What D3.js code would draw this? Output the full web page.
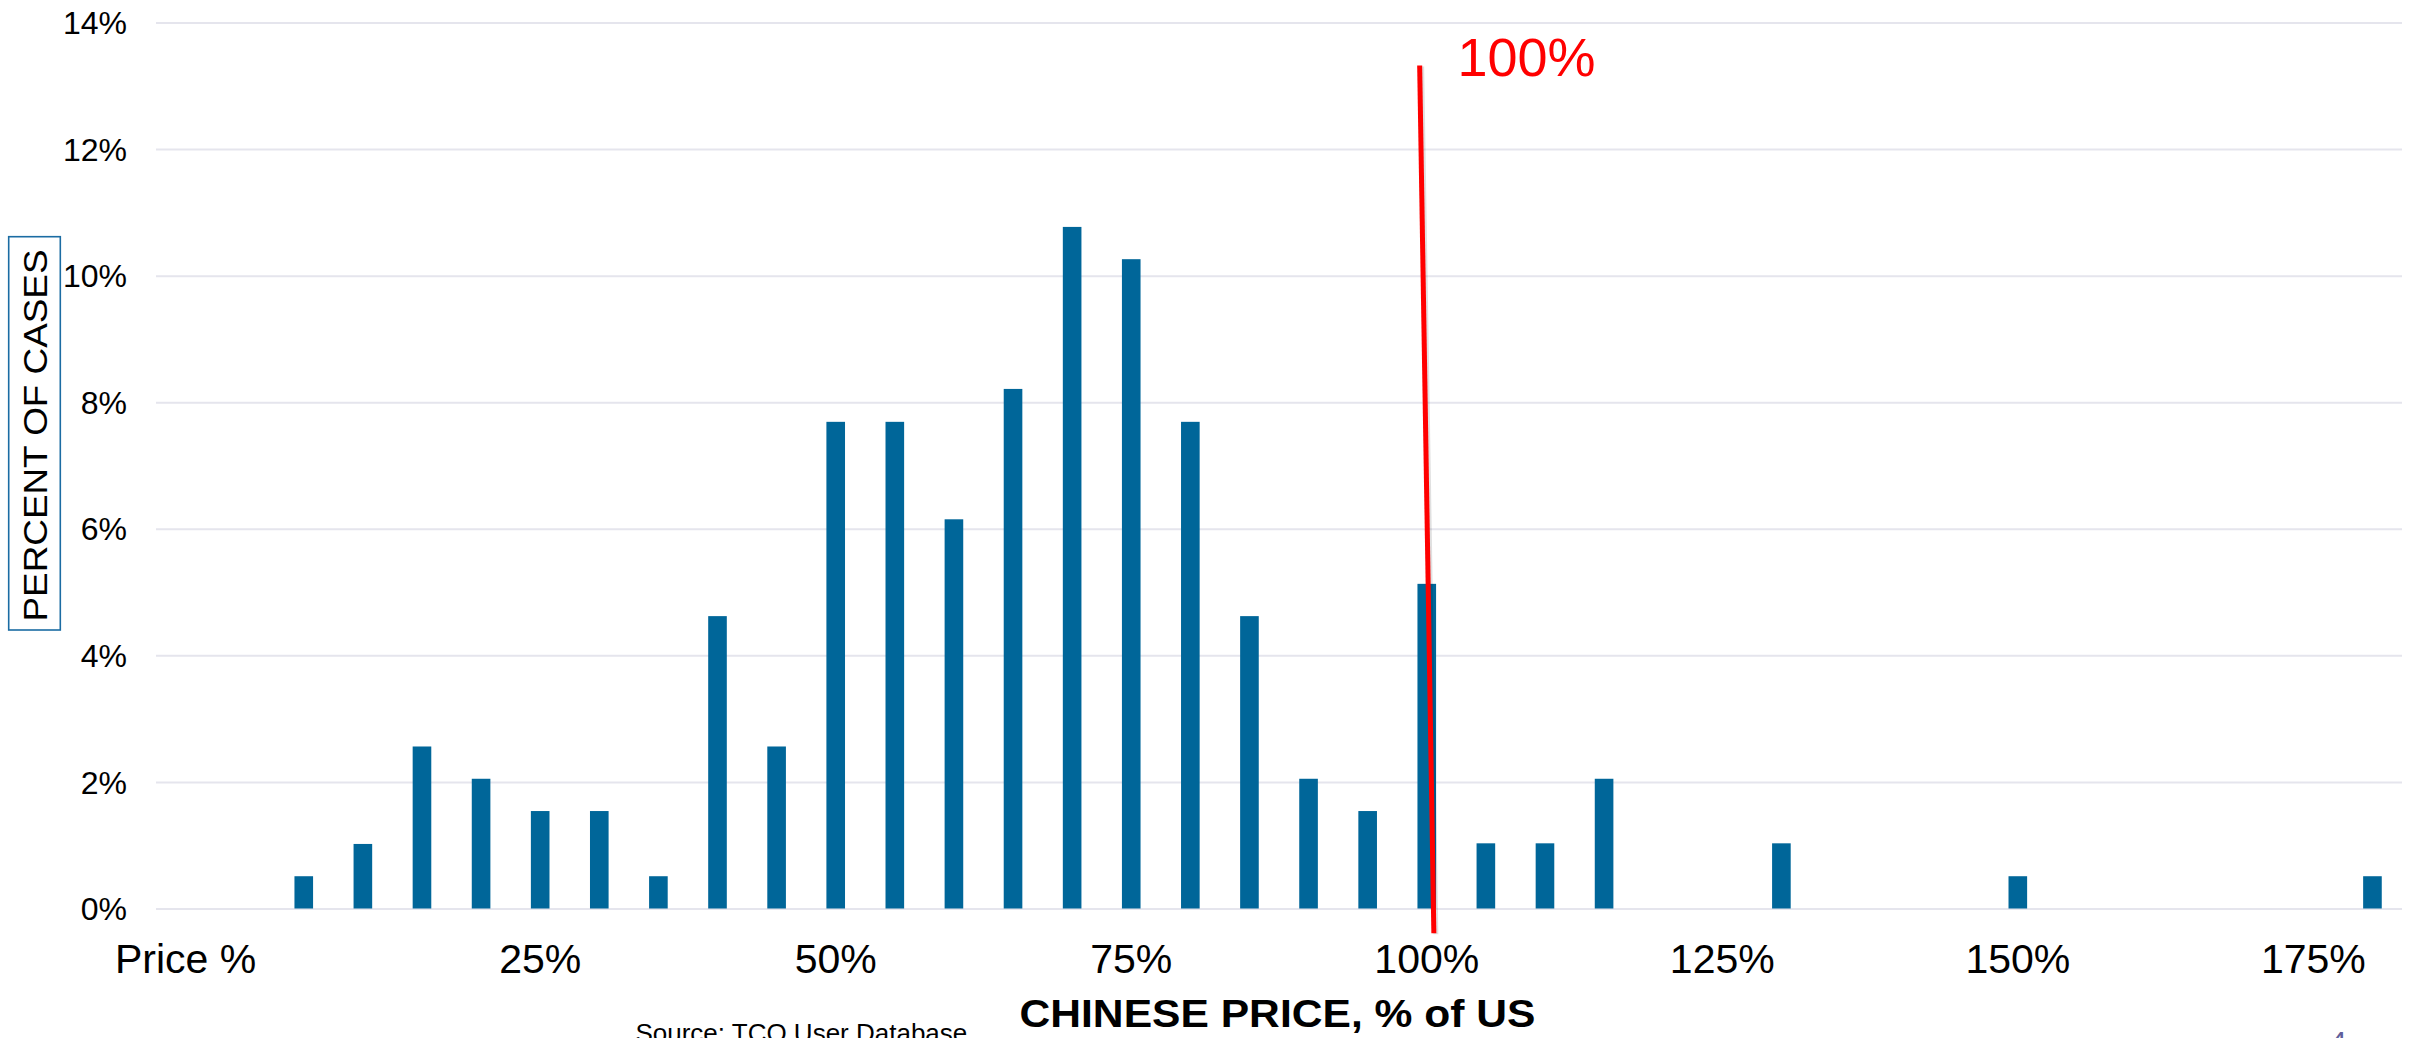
<!DOCTYPE html>
<html>
<head>
  <meta charset="utf-8">
  <script src="https://d3js.org/d3.v7.min.js"></script>
  <style>
    body { margin: 0; background: #fff; }
    svg { display: block; font-family: "Liberation Sans", Arial, sans-serif; }
    .grid line { stroke: #e5e5ed; stroke-width: 2; }
    .grid text, .xaxis text { fill: #000; }
  </style>
</head>
<body>
<script>
  // category slots along the x axis (one per 5% step, plus the header slot)
  var categories = ["Price %", "0%", "5%", "10%", "15%", "20%", "25%", "30%", "35%", "40%",
                    "45%", "50%", "55%", "60%", "65%", "70%", "75%", "80%", "85%", "90%",
                    "95%", "100%", "105%", "110%", "115%", "120%", "125%", "130%", "135%", "140%",
                    "145%", "150%", "155%", "160%", "165%", "170%", "175%", "180%"];

  // bins that have cases, and their share of cases (%)
  var priceBins = ["5%", "10%", "15%", "20%", "25%", "30%", "35%", "40%", "45%", "50%",
                   "55%", "60%", "65%", "70%", "75%", "80%", "85%", "90%", "95%", "100%",
                   "105%", "110%", "115%", "130%", "150%", "180%"];
  var shareOfCases = [0.51, 1.02, 2.56, 2.05, 1.54, 1.54, 0.51, 4.62, 2.56, 7.69,
                      7.69, 6.15, 8.21, 10.77, 10.26, 7.69, 4.62, 2.05, 1.54, 5.13,
                      1.03, 1.03, 2.05, 1.03, 0.51, 0.51];

  var yTicks = [0, 2, 4, 6, 8, 10, 12, 14];
  var xTickLabels = ["Price %", "25%", "50%", "75%", "100%", "125%", "150%", "175%"];

  // the red "100%" marker, in (price %, share %) units
  var markerLine = [[99.4, 13.32], [100.6, -0.39]];
  var markerLabel = {price: 102.6, share: 13.15, text: "100%"};

  var W = 2418, H = 1038;
  var plotL = 156, plotR = 2402, plotT = 22.5, plotB = 908.5;

  var svg = d3.select("body").append("svg")
      .attr("width", W)
      .attr("height", H);

  var x = d3.scaleBand()
      .domain(categories)
      .range([plotL, plotR])
      .paddingInner(0.685)
      .paddingOuter(0.3425);

  // continuous version of the same axis, for the annotation
  var xLin = d3.scaleLinear()
      .domain([-5, 180])
      .range([x("Price %") + x.bandwidth() / 2, x("180%") + x.bandwidth() / 2]);

  var y = d3.scaleLinear()
      .domain([0, 14])
      .range([plotB, plotT]);

  // y axis + gridlines
  var gy = svg.append("g")
      .attr("class", "grid")
      .attr("transform", "translate(" + plotL + ",0)")
      .call(d3.axisLeft(y)
        .tickValues(yTicks)
        .tickFormat(function(d) { return d + "%"; })
        .tickSize(-(plotR - plotL))
        .tickPadding(29));
  gy.select(".domain").remove();
  gy.selectAll("text")
      .style("font-size", "32px")
      .attr("dy", "0.35em");

  // x axis labels
  var gx = svg.append("g")
      .attr("class", "xaxis")
      .attr("transform", "translate(0," + plotB + ")")
      .call(d3.axisBottom(x)
        .tickValues(xTickLabels)
        .tickSize(0));
  gx.select(".domain").remove();
  gx.selectAll("text")
      .style("font-size", "41px")
      .attr("y", 64.2)
      .attr("dy", 0);

  // bars
  svg.selectAll("rect.bar")
      .data(priceBins)
      .enter()
      .append("rect")
      .attr("class", "bar")
      .attr("x", function(d) { return x(d); })
      .attr("width", x.bandwidth())
      .attr("y", function(d, i) { return y(shareOfCases[i]); })
      .attr("height", function(d, i) { return y(0) - y(shareOfCases[i]); })
      .attr("fill", "#006699");

  // y axis title in its box
  svg.append("rect")
      .attr("x", 8.7)
      .attr("y", 236.7)
      .attr("width", 51.6)
      .attr("height", 393.3)
      .attr("fill", "none")
      .attr("stroke", "#1b6ca3")
      .attr("stroke-width", 1.6);
  svg.append("text")
      .attr("transform", "translate(46.7,435.5) rotate(-90)")
      .attr("text-anchor", "middle")
      .attr("textLength", 372)
      .attr("lengthAdjust", "spacingAndGlyphs")
      .style("font-size", "33px")
      .text("PERCENT OF CASES");

  // red marker line + label
  var line = d3.line()
      .x(function(d) { return xLin(d[0]); })
      .y(function(d) { return y(d[1]); });
  svg.append("path")
      .datum(markerLine)
      .attr("d", line)
      .attr("transform", "translate(2,1)")
      .attr("stroke", "#000")
      .attr("stroke-opacity", 0.12)
      .attr("stroke-width", 5)
      .attr("fill", "none");
  svg.append("path")
      .datum(markerLine)
      .attr("d", line)
      .attr("stroke", "#ff0000")
      .attr("stroke-width", 5)
      .attr("fill", "none");
  svg.append("text")
      .attr("x", xLin(markerLabel.price))
      .attr("y", y(markerLabel.share))
      .attr("fill", "#ff0000")
      .style("font-size", "54px")
      .text(markerLabel.text);

  // x axis title, source, page number
  svg.append("text")
      .attr("x", 1019.5)
      .attr("y", 1026.7)
      .attr("textLength", 516)
      .attr("lengthAdjust", "spacingAndGlyphs")
      .style("font-size", "39px")
      .style("font-weight", "bold")
      .text("CHINESE PRICE, % of US");

  svg.append("text")
      .attr("x", 635.4)
      .attr("y", 1042)
      .style("font-size", "26px")
      .text("Source: TCO User Database");

  svg.append("text")
      .attr("x", 2330)
      .attr("y", 1052)
      .attr("fill", "#5f5f9c")
      .style("font-size", "30px")
      .text("4");
</script>
</body>
</html>
